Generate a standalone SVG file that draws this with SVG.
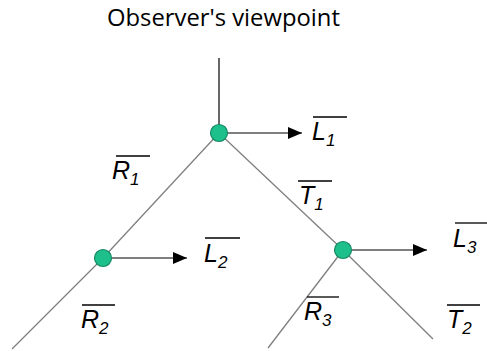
<svg xmlns="http://www.w3.org/2000/svg" width="487" height="351" viewBox="0 0 487 351">
<defs>
<style>
.branch{stroke:#7f7f7f;stroke-width:1.3;fill:none}
.stem{stroke:#000;stroke-width:1.2;fill:none}
.arrow{stroke:#000;stroke-width:1.2;fill:none;marker-end:url(#ah)}
.node{fill:#1dbf8a;stroke:#178a66;stroke-width:1.2}
.lbl{font-family:"Liberation Sans",Arial,sans-serif;font-style:italic;font-size:25px;fill:#000}
.sub{font-size:17px}
.ov{stroke:#000;stroke-width:1.3}
.title{font-family:"Open Sans","Noto Sans",sans-serif;font-size:23.8px;fill:#000}
</style>
<marker id="ah" viewBox="0 0 14 12" refX="14" refY="6" markerWidth="14" markerHeight="12" markerUnits="userSpaceOnUse" orient="auto">
<path d="M0,0 L14,6 L0,12 Z" fill="#000"/>
</marker>
</defs>
<rect width="487" height="351" fill="#fff"/>
<text class="title" x="107" y="26">Observer's viewpoint</text>
<g id="connectors">
<line class="stem" x1="219" y1="58" x2="219" y2="125"/>
<line class="branch" x1="219" y1="133" x2="103" y2="258"/>
<line class="branch" x1="103" y1="258" x2="12" y2="349"/>
<line class="branch" x1="219" y1="133" x2="343" y2="250"/>
<line class="branch" x1="343" y1="250" x2="433" y2="339"/>
<line class="branch" x1="343" y1="250" x2="268" y2="348"/>
<line class="arrow" x1="227" y1="133" x2="302" y2="133"/>
<line class="arrow" x1="111" y1="258" x2="187" y2="258"/>
<line class="arrow" x1="351" y1="250" x2="427" y2="250"/>
</g>
<g id="node1"><circle class="node" cx="219" cy="133" r="8.5"/></g>
<g id="node2"><circle class="node" cx="103" cy="258" r="8.5"/></g>
<g id="node3"><circle class="node" cx="343" cy="250" r="8.5"/></g>
<g id="labels">
<g id="L1"><text class="lbl" x="312" y="140">L<tspan class="sub" dy="6">1</tspan></text><line class="ov" x1="313" y1="117" x2="347" y2="117"/></g>
<g id="L2"><text class="lbl" x="204" y="262">L<tspan class="sub" dy="6">2</tspan></text><line class="ov" x1="205" y1="238" x2="240" y2="238"/></g>
<g id="L3"><text class="lbl" x="453" y="247">L<tspan class="sub" dy="6">3</tspan></text><line class="ov" x1="455" y1="223" x2="487" y2="223"/></g>
<g id="R1"><text class="lbl" x="112" y="179">R<tspan class="sub" dy="6">1</tspan></text><line class="ov" x1="116" y1="156" x2="150" y2="156"/></g>
<g id="T1"><text class="lbl" x="299" y="204">T<tspan class="sub" dy="6">1</tspan></text><line class="ov" x1="298" y1="181" x2="332" y2="181"/></g>
<g id="R2"><text class="lbl" x="81" y="328">R<tspan class="sub" dy="6">2</tspan></text><line class="ov" x1="82" y1="305" x2="115" y2="305"/></g>
<g id="R3"><text class="lbl" x="304" y="320">R<tspan class="sub" dy="6">3</tspan></text><line class="ov" x1="307" y1="297" x2="339" y2="297"/></g>
<g id="T2"><text class="lbl" x="447" y="328">T<tspan class="sub" dy="6">2</tspan></text><line class="ov" x1="447" y1="305" x2="480" y2="305"/></g>
</g>
</svg>
